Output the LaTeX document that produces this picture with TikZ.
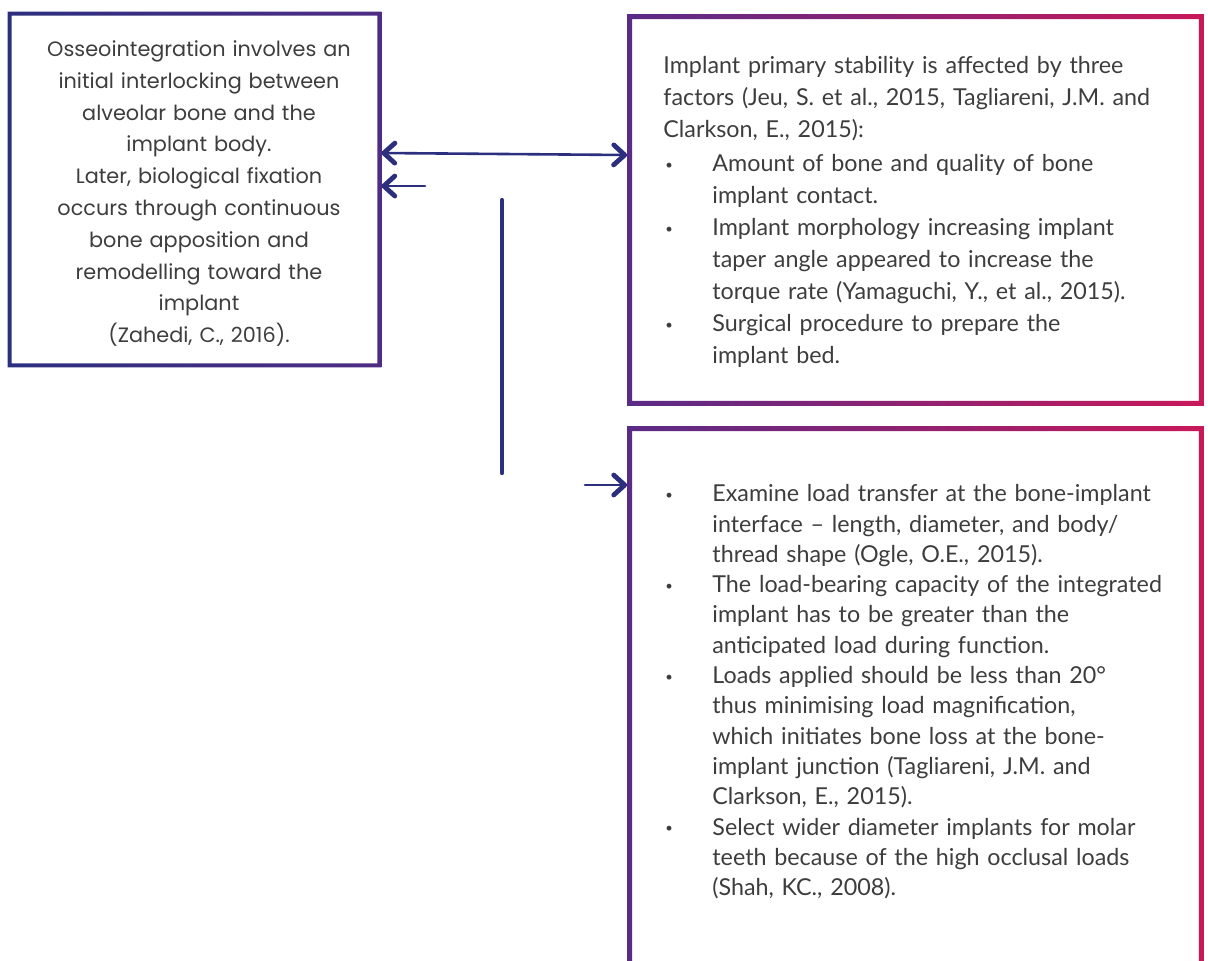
\documentclass[tikz,border=0pt]{standalone}
\usepackage{fontspec}
\setmainfont{Lato}
\newfontfamily\roundfont{Poppins}
\usetikzlibrary{arrows.meta,positioning}

\definecolor{navy}{HTML}{2C2F7E}
\definecolor{leftpurple}{HTML}{4E2C84}
\definecolor{framepurple}{HTML}{5A2B86}
\definecolor{framered}{HTML}{C8185A}
\definecolor{textgray}{HTML}{3D3D3D}

\newcommand*{\bulitem}[1]{\par\noindent\hangindent=24.5pt\hangafter=1\makebox[24.5pt][l]{\hspace{1pt}\raisebox{1.2pt}{\fontsize{6.5}{6.5}\selectfont\textbullet}}#1\par}

\begin{document}
\begin{tikzpicture}
[
	x=0.5pt, y=-0.5pt,
	framebox/.style={rectangle,inner sep=0pt},
	boxtext/.style={inner sep=0pt,text=textgray,font=\fontsize{11.65}{16}\selectfont,text width=300pt},
	link/.style={navy,line width=1.3pt,line cap=round},
	>={Straight Barb[length=5.5pt,width=10pt,line width=2.4pt,round]}
]
	\useasboundingbox (0,0) rectangle (1208,960);

	% boxes
	\node[framebox,minimum width=186.5pt,minimum height=177.5pt] (osseo) at (194.5,189.5) {};
	\node[framebox,minimum width=288pt,minimum height=195.5pt] (stability) at (915.5,210) {};
	\node[framebox,minimum width=288pt,minimum height=269.75pt] (design) at (915.5,696.25) {};

	\foreach \frm/\colA/\colB/\rw in {osseo/navy/leftpurple/2pt, stability/framepurple/framered/2.5pt, design/framepurple/framered/2.5pt}
		\shade[left color=\colA,right color=\colB,even odd rule]
			(\frm.north west) rectangle (\frm.south east)
			([shift={(\rw,-\rw)}]\frm.north west) rectangle ([shift={(-\rw,\rw)}]\frm.south east);

	% texts
	\node[boxtext,font=\roundfont\fontsize{10.4}{15.9}\selectfont,text width=180pt,align=center,anchor=north] (osseotext) at (199,36)
		{\rule{0pt}{10pt}Osseointegration involves an\\
		initial interlocking between\\
		alveolar bone and the\\
		implant body.\\
		Later, biological fixation\\
		occurs through continuous\\
		bone apposition and\\
		remodelling toward the\\
		implant\\
		(Zahedi, C., 2016).};

	\node[boxtext,anchor=north west] (stabtext) at (663,53)
		{\raggedright\rule{0pt}{10pt}Implant primary stability is affected by three\newline
		factors (Jeu, S. et al., 2015, Tagliareni, J.M. and\newline
		Clarkson, E., 2015):\par\vspace{1pt}
		\bulitem{Amount of bone and quality of bone\newline implant contact.}
		\bulitem{Implant morphology increasing implant\newline taper angle appeared to increase the\newline torque rate (Yamaguchi, Y., et al., 2015).}
		\bulitem{Surgical procedure to prepare the\newline implant bed.}};

	\node[boxtext,font=\fontsize{11.65}{15.15}\selectfont,anchor=north west] (designtext) at (663,471)
		{\raggedright\bulitem{\rule{0pt}{10pt}Examine load transfer at the bone-implant\newline interface -- length, diameter, and body/\newline thread shape (Ogle, O.E., 2015).}
		\bulitem{The load-bearing capacity of the integrated\newline implant has to be greater than the\newline anticipated load during function.}
		\bulitem{Loads applied should be less than 20°\newline thus minimising load magnification,\newline which initiates bone loss at the bone-\newline implant junction (Tagliareni, J.M. and\newline Clarkson, E., 2015).}
		\bulitem{Select wider diameter implants for molar\newline teeth because of the high occlusal loads\newline (Shah, KC., 2008).}};

	% arrows
	\coordinate (pairend) at (425,186);
	\coordinate (stemtop) at (502,200);
	\coordinate (stembot) at (502,473);
	\coordinate (loadtail) at (585,485);

	\draw[link,<->] (osseo.east |- 0,153) -- (stability.west |- 0,155);
	\draw[link,->] (pairend) -- (osseo.east |- pairend);
	\draw[link,line width=2.2pt] (stemtop) -- (stembot);
	\draw[link,->] (loadtail) -- (design.west |- loadtail);

\end{tikzpicture}
\end{document}
